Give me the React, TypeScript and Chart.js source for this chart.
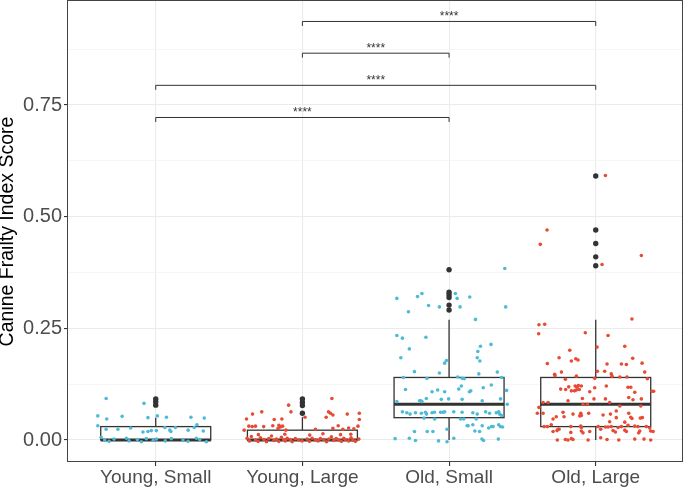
import React, { useEffect, useRef } from "react";
import { Chart, registerables } from "chart.js";

Chart.register(...registerables);

const categories = ["Young, Small", "Young, Large", "Old, Small", "Old, Large"];
const groupColors = ["#4DBBD5", "#E64B35", "#4DBBD5", "#E64B35"];

// Box statistics per category
const boxQ1 = [0, 0, 0.05, 0.03];
const boxMedian = [0, 0, 0.08, 0.08];
const boxQ3 = [0.03, 0.022, 0.14, 0.14];
const whiskerLow = [0, 0, 0, 0];
const whiskerHigh = [0.05, 0.051, 0.269, 0.269];
const outlierValues = [
  [0.078, 0.085, 0.092],
  [0.06, 0.077, 0.084, 0.092],
  [0.291, 0.302, 0.319, 0.325, 0.331, 0.381],
  [0.39, 0.41, 0.44, 0.47, 0.591],
];

const yMajorTicks = [0, 0.25, 0.5, 0.75];
const yMinorTicks = [0.125, 0.375, 0.625, 0.875];

const sigPairs = [
  [0, 2],
  [0, 3],
  [1, 2],
  [1, 3],
];
const sigHeights = [0.722, 0.794, 0.866, 0.937];
const sigLabels = ["****", "****", "****", "****"];

// jittered observations: [horizontal jitter offset, score]
const youngSmallPoints: [number, number][] = [
  [-0.338, 0.093], [-0.08, 0.082], [-0.395, 0.054], [-0.334, 0.047], [-0.229, 0.053],
  [-0.053, 0.05], [0.011, 0.054], [0.073, 0.051], [0.24, 0.051], [0.331, 0.049],
  [-0.395, 0.032], [-0.338, 0.024], [-0.258, 0.024], [-0.171, 0.027], [-0.087, 0.018],
  [-0.053, 0.019], [-0.03, 0.021], [0.004, 0.021], [0.062, 0.028], [0.096, 0.022],
  [0.103, 0.019], [0.134, 0.028], [0.221, 0.022], [0.262, 0.028], [0.281, 0.034],
  [0.324, 0.02], [-0.372, 0.006], [-0.348, 0.0], [-0.318, -0.003], [-0.284, 0.002],
  [-0.2, 0.004], [-0.182, -0.002], [-0.125, 0.001], [-0.098, -0.004], [-0.064, 0.003],
  [-0.018, -0.001], [0.004, 0.002], [0.065, -0.002], [0.106, 0.003], [0.186, 0.0],
  [0.22, -0.003], [0.277, 0.004], [0.3, 0.001], [0.345, -0.004],
];

const youngLargePoints: [number, number][] = [
  [0.201, 0.093], [-0.094, 0.078], [-0.277, 0.063], [-0.34, 0.058], [-0.078, 0.063],
  [-0.381, 0.047], [-0.192, 0.046], [-0.14, 0.047], [0.018, 0.051], [0.162, 0.051],
  [0.178, 0.063], [0.192, 0.06], [0.208, 0.056], [0.306, 0.058], [0.388, 0.06],
  [0.388, 0.046], [-0.365, 0.031], [-0.342, 0.03], [-0.32, 0.031], [-0.264, 0.03],
  [-0.202, 0.032], [-0.16, 0.033], [-0.15, 0.029], [-0.135, 0.031], [-0.166, 0.026],
  [-0.112, 0.022], [0.089, 0.024], [0.208, 0.026], [0.244, 0.032], [0.276, 0.024],
  [0.315, 0.027], [0.351, 0.025], [0.379, 0.031], [-0.397, 0.022],
  [-0.3, 0.012], [-0.12, 0.013], [0.05, 0.011], [0.14, 0.014], [0.26, 0.012], [0.33, 0.013],
  [-0.377, 0.004], [-0.361, -0.002], [-0.348, 0.008], [-0.32, 0.0], [-0.302, -0.003],
  [-0.286, 0.005], [-0.263, 0.001], [-0.245, -0.004], [-0.229, 0.003], [-0.211, 0.009],
  [-0.195, -0.001], [-0.177, 0.002], [-0.161, -0.003], [-0.143, 0.006], [-0.127, 0.0],
  [-0.116, -0.002], [-0.104, 0.004], [-0.082, 0.001], [-0.07, -0.004], [-0.048, 0.003],
  [-0.025, 0.0], [-0.002, -0.002], [0.032, 0.002], [0.048, -0.003], [0.066, 0.004],
  [0.089, 0.0], [0.107, -0.002], [0.123, 0.003], [0.146, 0.001], [0.164, -0.004],
  [0.18, 0.002], [0.198, 0.007], [0.214, -0.001], [0.23, 0.003], [0.248, 0.0],
  [0.266, -0.003], [0.282, 0.004], [0.293, 0.001], [0.316, -0.002], [0.332, 0.005],
  [0.344, 0.0], [0.361, -0.003], [0.385, 0.002],
];

const oldSmallPoints: [number, number][] = [
  [0.38, 0.384], [-0.356, 0.317], [-0.215, 0.321], [-0.185, 0.328], [0.043, 0.328],
  [0.055, 0.317], [0.141, 0.32], [-0.14, 0.301], [-0.066, 0.298], [0.075, 0.298],
  [0.386, 0.298], [-0.277, 0.287], [0.18, 0.27], [-0.356, 0.234], [-0.318, 0.228],
  [-0.158, 0.23], [0.286, 0.214], [0.214, 0.21], [-0.271, 0.204], [0.196, 0.198],
  [-0.329, 0.184], [0.192, 0.184], [0.21, 0.177], [-0.018, 0.178], [-0.03, 0.172],
  [-0.236, 0.153], [-0.066, 0.15], [0.329, 0.152], [0.203, 0.148], [-0.311, 0.14],
  [-0.151, 0.138], [0.059, 0.141], [0.089, 0.138], [0.103, 0.137], [0.358, 0.14],
  [-0.297, 0.113], [-0.116, 0.108], [-0.078, 0.112], [-0.03, 0.108], [0.066, 0.114],
  [0.084, 0.121], [0.139, 0.108], [0.148, 0.11], [0.233, 0.117], [0.288, 0.123],
  [0.392, 0.111], [-0.201, 0.088], [-0.193, 0.088], [-0.185, 0.086], [-0.155, 0.093],
  [-0.053, 0.091], [-0.003, 0.092], [0.089, 0.091], [0.226, 0.088], [0.351, 0.092],
  [0.397, 0.08], [-0.356, 0.086], [-0.318, 0.063], [-0.288, 0.061], [-0.266, 0.058],
  [-0.229, 0.061], [-0.189, 0.06], [-0.161, 0.062], [-0.154, 0.058], [-0.116, 0.061],
  [-0.1, 0.062], [-0.058, 0.062], [-0.041, 0.062], [-0.03, 0.063], [0.032, 0.063],
  [0.089, 0.062], [0.162, 0.061], [0.192, 0.058], [0.249, 0.063], [0.276, 0.06],
  [0.322, 0.061], [0.338, 0.063], [0.345, 0.058], [0.358, 0.055], [-0.171, 0.049],
  [-0.098, 0.047], [0.078, 0.047], [0.1, 0.047], [0.185, 0.047], [0.123, 0.032],
  [0.13, 0.032], [0.162, 0.034], [0.226, 0.032], [0.27, 0.027], [0.29, 0.03],
  [0.3, 0.03], [0.338, 0.034], [0.35, 0.03], [0.365, 0.029], [-0.236, 0.019],
  [-0.149, 0.019], [-0.11, 0.019], [-0.014, 0.024], [0.176, 0.02], [0.208, 0.019],
  [-0.368, 0.003], [-0.271, 0.004], [-0.229, -0.001], [-0.072, -0.002], [-0.014, -0.004],
  [0.032, 0.004], [0.224, 0.002], [0.235, -0.001], [0.336, 0.002],
];

const oldLargePoints: [number, number][] = [
  [0.066, 0.592], [-0.332, 0.47], [-0.378, 0.438], [0.311, 0.413], [0.043, 0.393],
  [-0.387, 0.258], [-0.348, 0.259], [-0.389, 0.238], [0.247, 0.271], [-0.071, 0.24],
  [0.084, 0.234], [0.009, 0.208], [0.198, 0.21], [-0.177, 0.201], [-0.25, 0.184],
  [-0.136, 0.182], [-0.121, 0.179], [-0.166, 0.177], [0.252, 0.183], [-0.33, 0.171],
  [0.077, 0.17], [0.175, 0.17], [0.209, 0.169], [0.316, 0.172], [0.011, 0.154],
  [0.061, 0.154], [-0.234, 0.152], [-0.28, 0.147], [-0.278, 0.144], [-0.132, 0.143],
  [0.106, 0.148], [0.111, 0.143], [0.164, 0.141], [0.213, 0.141], [0.334, 0.152],
  [0.352, 0.137], [-0.207, 0.136], [-0.007, 0.138], [-0.14, 0.121], [-0.128, 0.118],
  [-0.118, 0.122], [-0.145, 0.11], [-0.132, 0.112], [-0.112, 0.113], [-0.184, 0.119],
  [-0.239, 0.114], [-0.205, 0.113], [-0.166, 0.11], [-0.098, 0.121], [-0.007, 0.117],
  [0.072, 0.121], [0.22, 0.118], [0.239, 0.118], [0.266, 0.107], [0.384, 0.109],
  [0.395, 0.109], [-0.041, 0.108], [-0.091, 0.093], [-0.012, 0.092], [0.066, 0.092],
  [0.225, 0.095], [0.254, 0.09], [0.311, 0.092], [-0.325, 0.084], [-0.359, 0.084],
  [-0.189, 0.088], [-0.087, 0.08], [-0.057, 0.08], [0.095, 0.084], [0.164, 0.076],
  [0.307, 0.076], [-0.387, 0.073], [-0.359, 0.06], [-0.398, 0.06], [-0.223, 0.062],
  [-0.155, 0.058], [-0.102, 0.06], [-0.109, 0.054], [-0.098, 0.055], [-0.048, 0.06],
  [0.05, 0.056], [0.1, 0.058], [0.14, 0.065], [0.225, 0.06], [-0.269, 0.052],
  [-0.291, 0.047], [-0.216, 0.052], [0.14, 0.05], [0.239, 0.051], [0.247, 0.048],
  [0.304, 0.049], [0.318, 0.05], [0.095, 0.041], [0.198, 0.04], [-0.303, 0.034],
  [-0.33, 0.03], [-0.352, 0.03], [-0.17, 0.03], [-0.102, 0.031], [-0.098, 0.028],
  [0.016, 0.03], [0.066, 0.029], [0.084, 0.029], [0.106, 0.03], [0.152, 0.028],
  [0.175, 0.03], [0.22, 0.033], [0.266, 0.031], [0.288, 0.03], [0.345, 0.03],
  [0.368, 0.027], [-0.257, 0.024], [-0.25, 0.024], [-0.264, 0.021], [-0.291, 0.019],
  [-0.17, 0.017], [-0.098, 0.02], [-0.087, 0.016], [-0.041, 0.019], [0.034, 0.024],
  [0.118, 0.021], [0.134, 0.018], [0.198, 0.022], [0.209, 0.019], [0.3, 0.02],
  [0.293, 0.016], [0.375, 0.02], [0.391, 0.019], [-0.262, 0.0], [-0.207, 0.001],
  [-0.189, 0.0], [-0.166, 0.003], [-0.155, 0.001], [-0.052, 0.0], [0.034, 0.005],
  [0.077, 0.001], [0.157, 0.0], [0.266, 0.002], [0.329, 0.002], [0.375, 0.0],
];

const groupPoints = [youngSmallPoints, youngLargePoints, oldSmallPoints, oldLargePoints];

const FONT = "'Liberation Sans', Arial, Helvetica, sans-serif";
const INK = "#333333";

const boxPlugin = {
  id: "boxplotLayer",
  beforeDatasetsDraw(chart: any) {
    const { ctx, scales } = chart;
    const x = scales.x;
    const y = scales.y;
    ctx.save();
    ctx.strokeStyle = INK;
    categories.forEach((_, i) => {
      const l = x.getPixelForValue(i - 0.375);
      const r = x.getPixelForValue(i + 0.375);
      const c = x.getPixelForValue(i);
      const top = y.getPixelForValue(boxQ3[i]);
      const bot = y.getPixelForValue(boxQ1[i]);
      ctx.lineWidth = 1.3;
      ctx.beginPath();
      ctx.moveTo(c, y.getPixelForValue(whiskerHigh[i]));
      ctx.lineTo(c, top);
      ctx.moveTo(c, bot);
      ctx.lineTo(c, y.getPixelForValue(whiskerLow[i]));
      ctx.stroke();
      ctx.fillStyle = "#ffffff";
      ctx.fillRect(l, top, r - l, bot - top);
      ctx.strokeRect(l, top, r - l, bot - top);
      ctx.lineWidth = 3;
      const m = y.getPixelForValue(boxMedian[i]);
      ctx.beginPath();
      ctx.moveTo(l, m);
      ctx.lineTo(r, m);
      ctx.stroke();
    });
    ctx.restore();
  },
  afterDatasetsDraw(chart: any) {
    const { ctx, scales, chartArea } = chart;
    const x = scales.x;
    const y = scales.y;
    ctx.save();
    ctx.strokeStyle = INK;
    ctx.fillStyle = INK;
    ctx.lineWidth = 1;
    ctx.font = `12px ${FONT}`;
    ctx.textAlign = "center";
    ctx.textBaseline = "alphabetic";
    sigPairs.forEach((pair, k) => {
      const x1 = x.getPixelForValue(pair[0]);
      const x2 = x.getPixelForValue(pair[1]);
      const yy = y.getPixelForValue(sigHeights[k]);
      const tip = y.getPixelForValue(sigHeights[k] - 0.01);
      ctx.beginPath();
      ctx.moveTo(x1, tip);
      ctx.lineTo(x1, yy);
      ctx.lineTo(x2, yy);
      ctx.lineTo(x2, tip);
      ctx.stroke();
      ctx.fillText(sigLabels[k], (x1 + x2) / 2, yy - 1);
    });
    // panel border
    ctx.strokeStyle = "#444444";
    ctx.lineWidth = 1;
    ctx.strokeRect(
      Math.round(chartArea.left) + 0.5,
      Math.round(chartArea.top) - 0.5,
      Math.round(chartArea.right - chartArea.left) - 1,
      Math.round(chartArea.bottom - chartArea.top)
    );
    ctx.restore();
  },
};

export default function App() {
  const canvasRef = useRef<HTMLCanvasElement | null>(null);

  useEffect(() => {
    if (!canvasRef.current) return;
    const jitterSets = groupPoints.map((pts, g) => ({
      label: categories[g],
      data: pts.map(([dx, v]) => ({ x: g + dx, y: v })),
      backgroundColor: groupColors[g],
      borderWidth: 0,
      pointRadius: 1.8,
      order: 0,
    }));
    const outlierSet = {
      label: "outliers",
      data: outlierValues.flatMap((vals, g) => vals.map((v) => ({ x: g, y: v }))),
      backgroundColor: INK,
      borderWidth: 0,
      pointRadius: 2.7,
      order: 1,
    };
    const allY = [...yMajorTicks, ...yMinorTicks].sort((a, b) => a - b);

    const chart = new Chart(canvasRef.current, {
      type: "scatter",
      data: { datasets: [...jitterSets, outlierSet] as any },
      plugins: [boxPlugin],
      options: {
        animation: false,
        responsive: false,
        events: [],
        layout: { autoPadding: false, padding: { top: 1, right: 1, left: 0, bottom: 0 } },
        plugins: { legend: { display: false }, tooltip: { enabled: false } },
        scales: {
          x: {
            type: "linear",
            min: -0.605,
            max: 3.595,
            afterBuildTicks: (s: any) => {
              s.ticks = categories.map((_, i) => ({ value: i }));
            },
            afterFit: (s: any) => {
              s.height = 26;
              s.paddingLeft = 0;
              s.paddingRight = 0;
            },
            ticks: {
              autoSkip: false,
              maxRotation: 0,
              padding: 0,
              color: "#4d4d4d",
              font: { family: FONT, size: 19 },
              callback: (v: any) => categories[Math.round(Number(v))],
            },
            grid: {
              color: "#ebebeb",
              lineWidth: 1.1,
              tickLength: 4,
              tickColor: INK,
            },
            border: { display: false },
          },
          y: {
            type: "linear",
            min: -0.04925,
            max: 0.9828,
            afterBuildTicks: (s: any) => {
              s.ticks = allY.map((v) => ({ value: v }));
            },
            afterFit: (s: any) => {
              s.width = 67;
              s.paddingTop = 0;
              s.paddingBottom = 0;
            },
            ticks: {
              autoSkip: false,
              padding: 2,
              color: "#4d4d4d",
              font: { family: FONT, size: 20 },
              callback: (v: any) => (yMajorTicks.includes(Number(v)) ? Number(v).toFixed(2) : ""),
            },
            grid: {
              color: (c: any) => (yMinorTicks.includes(c.tick?.value) ? "#f2f2f2" : "#ebebeb"),
              lineWidth: (c: any) => (yMinorTicks.includes(c.tick?.value) ? 0.7 : 1.1),
              tickLength: 3,
              tickColor: (c: any) => (yMinorTicks.includes(c.tick?.value) ? "rgba(0,0,0,0)" : INK),
            },
            border: { display: false },
            title: {
              display: true,
              text: "Canine Frailty Index Score",
              color: "#000000",
              padding: 0,
              font: { family: FONT, size: 19.5, lineHeight: 0.79 },
            },
          },
        },
      },
    });
    return () => chart.destroy();
  }, []);

  return (
    <div style={{ position: "absolute", left: 0, top: 0, width: 684, height: 488, background: "#ffffff" }}>
      <canvas ref={canvasRef} width={684} height={488} style={{ width: 684, height: 488, display: "block" }} />
    </div>
  );
}
